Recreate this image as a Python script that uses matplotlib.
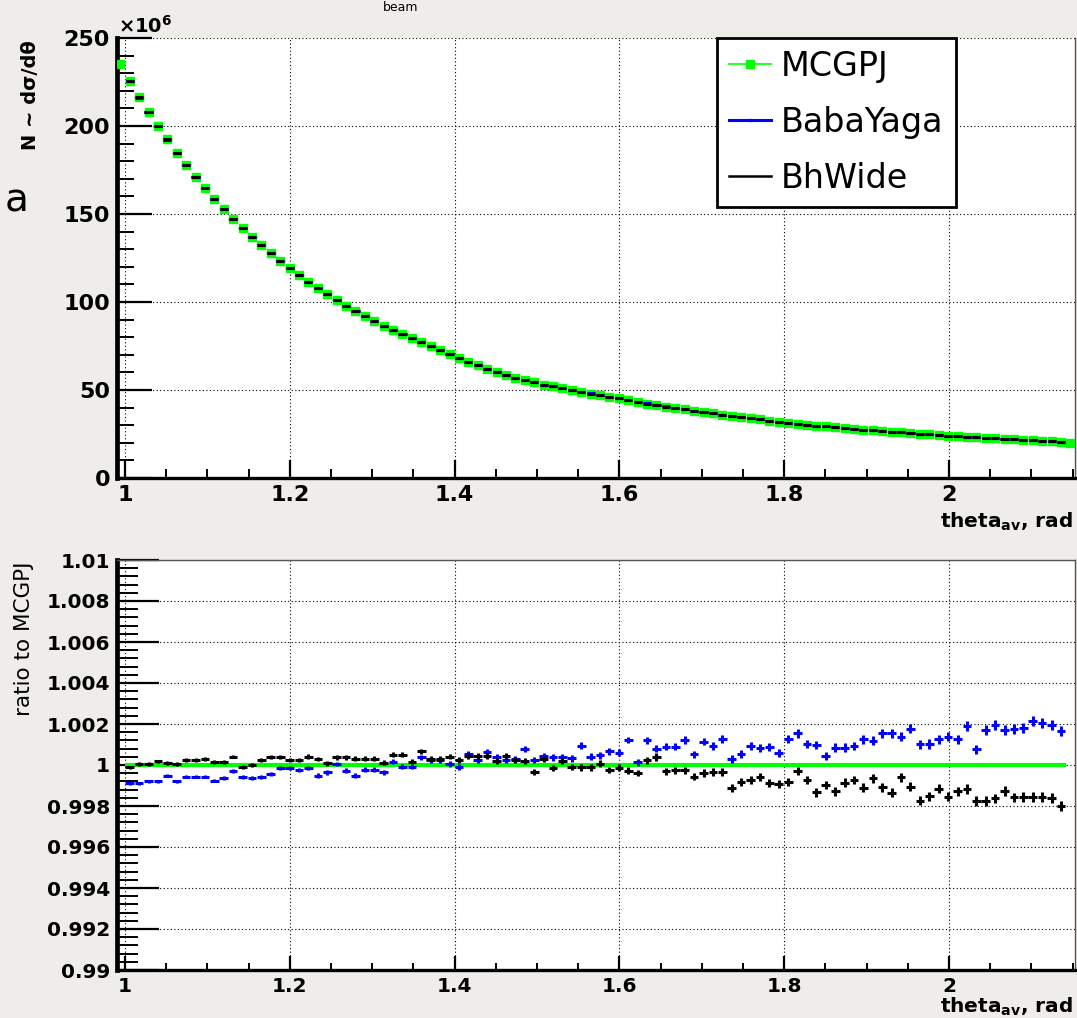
import numpy as np
import matplotlib
matplotlib.use("Agg")
import matplotlib.pyplot as plt
from matplotlib.lines import Line2D
from matplotlib.ticker import MultipleLocator, FormatStrFormatter

# 1. Datos
# BabaYaga / BhWide: 100 bins en [1, pi-1]; MCGPJ tiene un bin extra a cada lado
n_bins = 100
theta_lo = 1.0
theta_hi = np.pi - 1.0

# MCGPJ, N ~ dsigma/dtheta en unidades de 10^6 (102 bins)
mcgpj = [235.2, 225.6, 216.3, 208.0, 200.0, 192.4, 184.8, 177.8, 171.2, 164.6,
         158.5, 152.7, 147.3, 142.1, 137.0, 132.4, 128.0, 123.5, 119.1, 115.2,
         111.5, 107.8, 104.5, 101.0, 97.8, 94.9, 92.0, 89.2, 86.5, 83.9,
         81.6, 79.3, 77.1, 74.9, 72.7, 70.4, 68.2, 66.1, 64.1, 62.1,
         60.3, 58.6, 57.0, 55.6, 54.3, 53.1, 52.0, 50.9, 49.9, 48.9,
         48.0, 47.1, 46.2, 45.2, 44.2, 43.2, 42.3, 41.4, 40.6, 39.8,
         39.0, 38.2, 37.4, 36.7, 36.0, 35.3, 34.6, 33.9, 33.3, 32.6,
         32.0, 31.4, 30.9, 30.3, 29.8, 29.3, 28.8, 28.4, 27.9, 27.5,
         27.1, 26.7, 26.3, 25.9, 25.5, 25.1, 24.8, 24.4, 24.1, 23.8,
         23.5, 23.2, 22.9, 22.6, 22.3, 22.0, 21.7, 21.4, 21.1, 20.8,
         20.4, 20.0]

ratio_bhwide = [0.99988, 1.00005, 1.00005, 1.00018, 1.00010, 1.00005, 1.00024, 1.00024, 1.00028, 1.00016,
                1.00016, 1.00041, 0.99992, 0.99998, 1.00024, 1.00037, 1.00037, 1.00024, 1.00024, 1.00041,
                1.00029, 1.00008, 1.00037, 1.00037, 1.00031, 1.00031, 1.00031, 1.00011, 1.00050, 1.00050,
                1.00016, 1.00067, 1.00031, 1.00031, 1.00041, 1.00024, 1.00044, 1.00044, 1.00044, 1.00018,
                1.00046, 1.00023, 1.00019, 0.99965, 1.00028, 0.99985, 1.00021, 0.99990, 0.99989, 0.99989,
                1.00006, 0.99976, 0.99986, 0.99972, 0.99961, 1.00023, 1.00039, 0.99970, 0.99974, 0.99974,
                0.99943, 0.99961, 0.99965, 0.99965, 0.99888, 0.99916, 0.99927, 0.99940, 0.99914, 0.99909,
                0.99916, 0.99971, 0.99927, 0.99866, 0.99902, 0.99872, 0.99914, 0.99927, 0.99890, 0.99935,
                0.99892, 0.99865, 0.99941, 0.99894, 0.99825, 0.99848, 0.99884, 0.99846, 0.99872, 0.99884,
                0.99825, 0.99825, 0.99837, 0.99872, 0.99842, 0.99842, 0.99842, 0.99842, 0.99839, 0.99799]

ratio_babayaga = [0.99911, 0.99911, 0.99920, 0.99920, 0.99948, 0.99920, 0.99943, 0.99943, 0.99943, 0.99924,
                  0.99935, 0.99972, 0.99943, 0.99935, 0.99943, 0.99956, 0.99984, 0.99984, 0.99977, 0.99984,
                  0.99948, 0.99964, 1.00005, 0.99972, 0.99948, 0.99977, 0.99977, 0.99964, 1.00016, 0.99992,
                  0.99992, 1.00037, 1.00024, 1.00024, 1.00005, 0.99989, 1.00054, 1.00024, 1.00062, 1.00037,
                  1.00026, 1.00030, 1.00077, 1.00026, 1.00045, 1.00037, 1.00037, 1.00032, 1.00094, 1.00041,
                  1.00047, 1.00066, 1.00060, 1.00122, 1.00014, 1.00121, 1.00079, 1.00089, 1.00089, 1.00122,
                  1.00052, 1.00114, 1.00093, 1.00127, 1.00028, 1.00054, 1.00094, 1.00081, 1.00086, 1.00060,
                  1.00125, 1.00154, 1.00102, 1.00098, 1.00044, 1.00085, 1.00085, 1.00093, 1.00125, 1.00119,
                  1.00154, 1.00154, 1.00138, 1.00176, 1.00102, 1.00102, 1.00125, 1.00138, 1.00125, 1.00190,
                  1.00076, 1.00171, 1.00195, 1.00171, 1.00176, 1.00179, 1.00216, 1.00203, 1.00195, 1.00166]

GREEN = "#00ff00"
BLUE = "#0000ff"


def estilo_root(ax, ylim, ymaj, ymin, ylen, xlen, lsize):
    ax.set_facecolor("white")
    ax.set_xlim(0.9903, 2.1529)
    ax.set_ylim(*ylim)
    ax.xaxis.set_major_locator(MultipleLocator(0.2))
    ax.xaxis.set_minor_locator(MultipleLocator(0.05))
    ax.yaxis.set_major_locator(MultipleLocator(ymaj))
    ax.yaxis.set_minor_locator(MultipleLocator(ymin))
    ax.xaxis.set_major_formatter(FormatStrFormatter("%g"))
    ax.yaxis.set_major_formatter(FormatStrFormatter("%g"))
    ax.tick_params(axis="y", which="major", direction="in", length=ylen, width=1.6,
                   labelsize=lsize, pad=5, right=False)
    ax.tick_params(axis="y", which="minor", direction="in", length=ylen / 2, width=1.4, right=False)
    ax.tick_params(axis="x", which="major", direction="in", length=xlen, width=1.6,
                   labelsize=lsize, pad=5, top=False)
    ax.tick_params(axis="x", which="minor", direction="in", length=xlen / 2, width=1.4, top=False)
    ax.grid(True, which="major", color="black", linestyle=(0, (1, 2.2)), linewidth=0.8)
    ax.set_axisbelow(True)
    ax.spines["left"].set_linewidth(3.4)
    ax.spines["bottom"].set_linewidth(2.4)


def dibujar():
    plt.rcParams["font.family"] = ["DejaVu Sans"]
    plt.rcParams["font.weight"] = "bold"

    W, H = 1077.0, 1018.0
    fig = plt.figure(figsize=(10.77, 10.18), dpi=100, facecolor="#efedea")

    def caja(left, top, right, bottom):
        return [left / W, 1 - bottom / H, (right - left) / W, (bottom - top) / H]

    # bins
    edges = np.linspace(theta_lo, theta_hi, n_bins + 1)
    width = edges[1] - edges[0]
    centers = 0.5 * (edges[1:] + edges[:-1])
    centers_mc = np.concatenate([[centers[0] - width], centers, [centers[-1] + width]])

    mc = np.array(mcgpj)
    r_bb = np.array(ratio_babayaga)
    r_bh = np.array(ratio_bhwide)
    babayaga = r_bb * mc[1:-1]
    bhwide = r_bh * mc[1:-1]
    ratio_err = 0.00025 * np.sqrt(20.0 / mc[1:-1])

    # 2. Panel superior
    ax1 = fig.add_axes(caja(117, 38, 1075, 478))
    estilo_root(ax1, (0, 250), 50, 10, 25, 13, 16)
    ax1.spines["top"].set_visible(False)
    ax1.spines["right"].set_linewidth(1.0)
    ax1.spines["right"].set_color("#555555")

    ax1.errorbar(centers_mc, mc, xerr=0.5 * width, fmt="s", color=GREEN, ms=5.5,
                 elinewidth=1.0, capsize=0, zorder=3)
    ax1.errorbar(centers, babayaga, xerr=0.43 * width, fmt="none", ecolor=BLUE,
                 elinewidth=2.2, capsize=0, zorder=4)
    ax1.errorbar(centers, bhwide, xerr=0.43 * width, fmt="none", ecolor="black",
                 elinewidth=2.2, capsize=0, zorder=5)

    handles = [Line2D([], [], color=GREEN, marker="s", ms=6, lw=1.2),
               Line2D([], [], color=BLUE, marker=".", ms=3, lw=2.2),
               Line2D([], [], color="black", lw=1.8)]
    leg = ax1.legend(handles, ["MCGPJ", "BabaYaga", "BhWide"], loc="upper left",
                     bbox_to_anchor=(717 / W, 1 - 38 / H), bbox_transform=fig.transFigure,
                     frameon=True, fancybox=False, framealpha=1, edgecolor="black",
                     borderpad=0.36, labelspacing=0.69, handlelength=1.26,
                     handletextpad=0.3, borderaxespad=0,
                     prop={"size": 24, "weight": "normal"})
    leg.get_frame().set_linewidth(2.0)
    leg.set_zorder(10)

    fig.text(118 / W, 1 - 33 / H, r"$\times10^{6}$", fontsize=14, fontweight="normal",
             ha="left", va="baseline")
    fig.text(30 / W, 1 - 40 / H, "N ~ d\u03c3/d\u03b8", rotation=90, fontsize=14,
             ha="center", va="top")
    fig.text(1073 / W, 1 - 528 / H, r"theta$_{\mathbf{av}}$, rad", fontsize=14.5,
             ha="right", va="baseline")

    # 3. Panel de ratios
    ax2 = fig.add_axes(caja(117, 560, 1075, 970))
    estilo_root(ax2, (0.99, 1.01), 0.002, 0.0004, 30, 10, 14.5)
    for lado in ["top", "right"]:
        ax2.spines[lado].set_linewidth(1.0)
        ax2.spines[lado].set_color("#555555")

    ax2.errorbar(centers, np.ones(n_bins), xerr=0.5 * width, fmt="none", ecolor=GREEN,
                 elinewidth=3.0, capsize=0, zorder=3)
    ax2.errorbar(centers, r_bb, xerr=0.46 * width, yerr=ratio_err, fmt="none", ecolor=BLUE,
                 elinewidth=2.2, capsize=0, zorder=4)
    ax2.errorbar(centers, r_bh, xerr=0.46 * width, yerr=ratio_err, fmt="none", ecolor="black",
                 elinewidth=2.2, capsize=0, zorder=5)

    fig.text(24 / W, 1 - 562 / H, "ratio to MCGPJ", rotation=90, fontsize=15.5,
             fontweight="normal", ha="center", va="top")
    fig.text(1073 / W, 1 - 1013 / H, r"theta$_{\mathbf{av}}$, rad", fontsize=14.5,
             ha="right", va="baseline")

    # 4. Restos de la diapositiva de fondo
    fig.text(383 / W, 1 - 11 / H, "beam", fontsize=9, fontweight="normal",
             ha="left", va="baseline")
    fig.text(5 / W, 1 - 212 / H, "a", fontsize=28, fontweight="normal",
             ha="left", va="baseline")

    fig.savefig("out.png", dpi=100, facecolor=fig.get_facecolor())


if __name__ == "__main__":
    dibujar()
